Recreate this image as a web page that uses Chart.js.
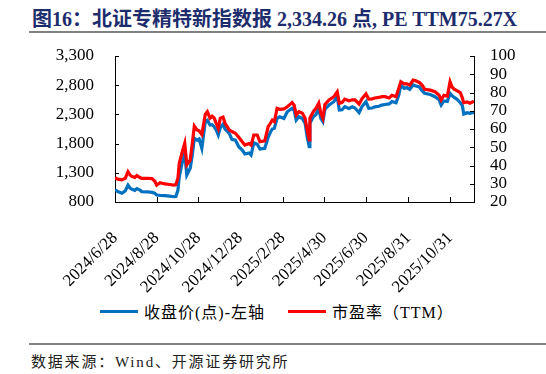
<!DOCTYPE html>
<html>
<head>
<meta charset="utf-8">
<script src="https://cdn.jsdelivr.net/npm/chart.js@4"></script>
<style>
body{margin:0;background:#fff;width:546px;height:374px;overflow:hidden;position:relative;font-family:"Liberation Serif","Noto Sans CJK SC",serif;color:#000;}
#title{position:absolute;left:32px;top:3px;font-size:20px;font-weight:bold;color:#1c2c6c;white-space:nowrap;}
.rule{position:absolute;left:29px;right:0;height:2px;background:#808080;}
#box{position:absolute;left:0;top:40px;width:546px;height:255px;}
.legend{position:absolute;top:301px;height:20px;font-size:16px;letter-spacing:1px;white-space:nowrap;display:flex;align-items:center;}
.swatch{display:inline-block;width:38px;height:3px;margin-right:6px;}
#source{position:absolute;left:31px;top:350px;font-size:15px;letter-spacing:1.8px;color:#222;white-space:nowrap;}
</style>
</head>
<body>
<div id="title">图16：北证专精特新指数报 2,334.26 点, PE TTM75.27X</div>
<div class="rule" style="top:31px"></div>
<div id="box"><canvas id="myChart"></canvas></div>
<div class="legend" style="left:100px"><span class="swatch" style="background:#0070c0"></span>收盘价(点)-左轴</div>
<div class="legend" style="left:288px"><span class="swatch" style="background:#ff0000"></span>市盈率（TTM）</div>
<div class="rule" style="top:343px"></div>
<div id="source">数据来源：Wind、开源证券研究所</div>
<script>
// data
const dates = ['2024/6/28','2024/7/2','2024/7/8','2024/7/13','2024/7/17','2024/7/20','2024/7/23','2024/7/27','2024/7/30','2024/8/4',
'2024/8/6','2024/8/14','2024/8/21','2024/8/25','2024/8/28','2024/9/2','2024/9/9','2024/9/16','2024/9/22','2024/9/25',
'2024/9/28','2024/9/30','2024/10/4','2024/10/8','2024/10/11','2024/10/16','2024/10/19','2024/10/22','2024/10/26','2024/10/29',
'2024/11/2','2024/11/7','2024/11/10','2024/11/14','2024/11/17','2024/11/20','2024/11/23','2024/11/26','2024/11/29','2024/12/3',
'2024/12/6','2024/12/12','2024/12/16','2024/12/21','2024/12/26','2024/12/31','2025/1/4','2025/1/10','2025/1/13','2025/1/17',
'2025/1/22','2025/1/26','2025/2/2','2025/2/7','2025/2/10','2025/2/13','2025/2/16','2025/2/20','2025/2/24','2025/3/2',
'2025/3/7','2025/3/11','2025/3/14','2025/3/17','2025/3/20','2025/3/24','2025/3/29','2025/4/2','2025/4/5','2025/4/8',
'2025/4/9','2025/4/14','2025/4/18','2025/4/22','2025/4/25','2025/4/28','2025/5/1','2025/5/7','2025/5/14','2025/5/19',
'2025/5/22','2025/5/26','2025/5/30','2025/6/5','2025/6/10','2025/6/14','2025/6/20','2025/6/24','2025/6/30','2025/7/4',
'2025/7/9','2025/7/13','2025/7/19','2025/7/23','2025/7/28','2025/8/3','2025/8/7','2025/8/13','2025/8/17','2025/8/20',
'2025/8/25','2025/8/29','2025/9/2','2025/9/7','2025/9/10','2025/9/16','2025/9/20','2025/9/24','2025/10/2','2025/10/9',
'2025/10/15','2025/10/18','2025/10/22','2025/10/27','2025/10/31','2025/11/3','2025/11/6','2025/11/10','2025/11/15','2025/11/18',
'2025/11/20','2025/11/25','2025/11/29','2025/12/5'];

const closeValues = [1005,980,950,990,1090,1040,1017,1000,1030,1000,
977,975,965,950,920,915,910,900,890,895,
1000,1233,1462,1633,1262,1377,1600,1890,1860,1880,
1720,2175,2200,2118,2125,2090,2033,1947,2074,2130,
2050,1976,1873,1860,1747,1690,1622,1640,1604,1815,
1790,1707,1720,1907,1990,2050,2061,2232,2260,2230,
2346,2380,2403,2370,2203,2260,2230,2147,1918,1747,
2147,2261,2300,2403,2230,2175,2390,2460,2517,2603,
2375,2380,2431,2400,2430,2410,2329,2430,2517,2403,
2410,2430,2440,2460,2470,2480,2520,2500,2632,2803,
2746,2760,2730,2803,2790,2770,2706,2660,2640,2603,
2550,2460,2530,2520,2660,2620,2590,2560,2500,2450,
2306,2330,2318,2334.26];

const peValues = [33.3,32.5,32.1,33.0,36.6,34.8,33.9,33.5,34.5,33.3,
33.0,33.0,32.8,31.5,29.3,30.6,29.9,29.6,29.3,29.5,
33.0,41.2,47.0,52.2,40.4,43.0,52.0,61.6,59.5,59.0,
57.0,68.0,69.5,65.9,67.0,66.0,63.1,60.4,65.9,66.5,
63.1,59.5,58.6,57.7,55.5,53.0,51.2,52.0,51.2,56.7,
56.7,53.0,53.5,61.3,63.0,64.9,64.0,71.3,70.8,71.0,
72.2,73.5,74.5,73.0,67.7,69.5,68.6,65.9,59.5,54.0,
65.9,69.5,71.3,74.1,68.6,65.9,73.5,75.9,77.7,80.4,
74.1,74.5,76.4,75.5,76.0,76.0,73.7,76.5,79.2,76.4,
76.5,77.0,77.3,77.7,77.7,77.0,78.5,77.7,82.3,85.9,
84.7,84.7,84.0,86.8,86.5,85.5,84.1,81.8,81.3,80.4,
78.5,75.9,78.5,78.0,85.9,83.0,81.8,81.0,79.9,77.0,
74.4,74.8,74.1,75.27];

const tickLabels = ['2024/6/28','2024/8/28','2024/10/28','2024/12/28','2025/2/28','2025/4/30','2025/6/30','2025/8/31','2025/10/31'];

function dayNum(s) {
    var p = s.split('/');
    return Date.UTC(+p[0], +p[1] - 1, +p[2]) / 86400000;
}
const day0 = dayNum(dates[0]);
const xDays = dates.map(d => dayNum(d) - day0);
const tickDays = tickLabels.map(d => dayNum(d) - day0);

// ticks pointing into the plot
const innerTicks = {
    id: 'innerTicks',
    afterDraw(chart) {
        const ctx = chart.ctx, a = chart.chartArea, s = chart.scales;
        ctx.save();
        ctx.strokeStyle = '#000';
        ctx.lineWidth = 1;
        ctx.beginPath();
        s.y.ticks.forEach(t => {
            const p = Math.round(s.y.getPixelForValue(t.value)) + 0.5;
            ctx.moveTo(a.left, p); ctx.lineTo(a.left + 4, p);
        });
        s.y1.ticks.forEach(t => {
            const p = Math.round(s.y1.getPixelForValue(t.value)) + 0.5;
            ctx.moveTo(a.right, p); ctx.lineTo(a.right - 4, p);
        });
        s.x.ticks.forEach(t => {
            const p = Math.round(s.x.getPixelForValue(t.value)) + 0.5;
            ctx.moveTo(p, a.bottom); ctx.lineTo(p, a.bottom - 5);
        });
        ctx.stroke();
        ctx.restore();
    }
};

const tickFont = { family: 'Liberation Serif', size: 17 };

new Chart('myChart', {
    type: 'line',
    data: {
        datasets: [{
            label: '收盘价(点)-左轴',
            data: xDays.map((x, i) => ({ x: x, y: closeValues[i] })),
            borderColor: '#0070c0',
            borderWidth: 3.2,
            pointRadius: 0,
            tension: 0,
            yAxisID: 'y',
            order: 2
        }, {
            label: '市盈率（TTM）',
            data: xDays.map((x, i) => ({ x: x, y: peValues[i] })),
            borderColor: '#ff0000',
            borderWidth: 3.2,
            pointRadius: 0,
            tension: 0,
            yAxisID: 'y1',
            order: 1
        }]
    },
    options: {
        responsive: true,
        maintainAspectRatio: false,
        animation: false,
        layout: { padding: { top: 16, left: 0, right: 0, bottom: 0 } },
        plugins: { legend: { display: false }, tooltip: { enabled: false } },
        scales: {
            x: {
                type: 'linear',
                min: 0,
                max: xDays[xDays.length - 1],
                afterBuildTicks: scale => { scale.ticks = tickDays.map(v => ({ value: v })); },
                afterFit: scale => { scale.height = 93; scale.paddingTop = 0; scale.paddingBottom = 0; },
                grid: { display: false, drawTicks: false, tickLength: 0 },
                border: { display: true, color: '#000', width: 1 },
                ticks: {
                    autoSkip: false,
                    minRotation: 45,
                    maxRotation: 45,
                    padding: 26,
                    color: '#000',
                    font: { family: 'Liberation Serif', size: 17 },
                    callback: v => tickLabels[tickDays.indexOf(v)]
                }
            },
            y: {
                position: 'left',
                min: 800,
                max: 3300,
                afterFit: scale => { scale.width = 115; scale.paddingTop = 0; scale.paddingBottom = 0; },
                grid: { display: false, drawTicks: false, tickLength: 0 },
                border: { display: true, color: '#000', width: 1 },
                ticks: {
                    stepSize: 500,
                    autoSkip: false,
                    padding: 21,
                    color: '#000',
                    font: tickFont,
                    callback: v => v.toLocaleString('en-US')
                }
            },
            y1: {
                position: 'right',
                min: 20,
                max: 100,
                afterFit: scale => { scale.width = 72; scale.paddingTop = 0; scale.paddingBottom = 0; },
                grid: { display: false, drawTicks: false, tickLength: 0 },
                border: { display: true, color: '#000', width: 1 },
                ticks: {
                    stepSize: 10,
                    autoSkip: false,
                    padding: 16,
                    color: '#000',
                    font: tickFont
                }
            }
        }
    },
    plugins: [innerTicks]
});
</script>
</body>
</html>
